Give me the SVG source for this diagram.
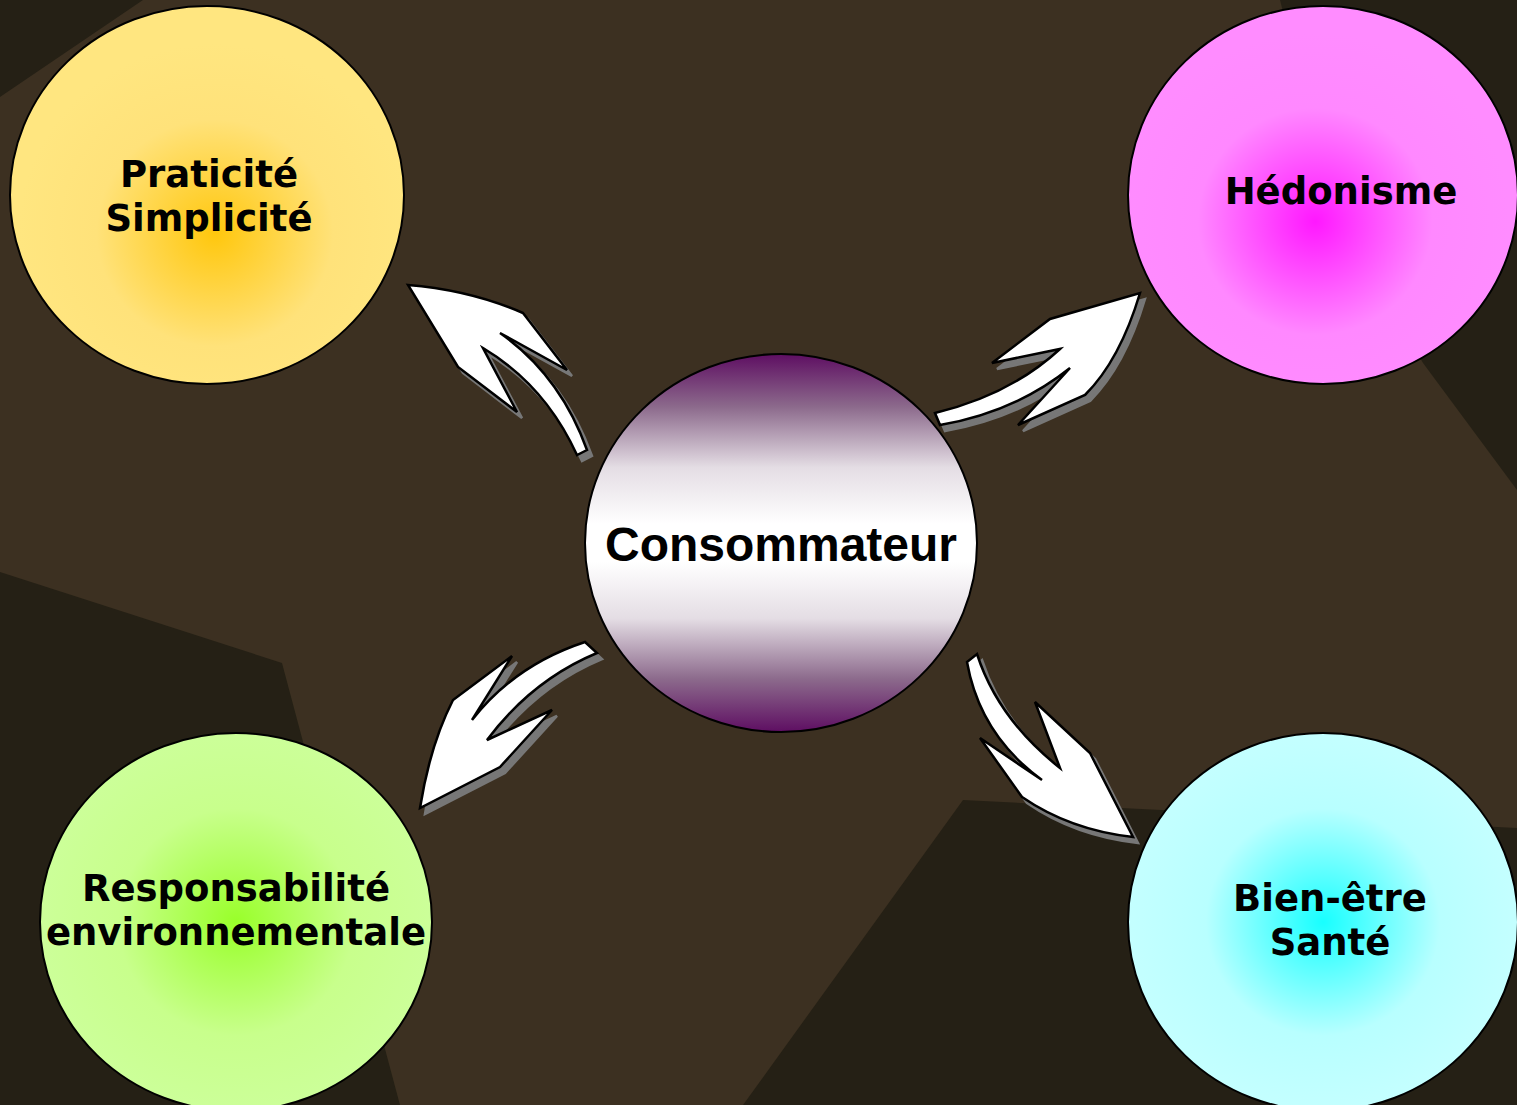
<svg xmlns="http://www.w3.org/2000/svg" width="1517" height="1105" viewBox="0 0 1517 1105">
<style>
.node ellipse{stroke:#000;stroke-width:2}
.lbl{font-family:"DejaVu Sans",Verdana,sans-serif;font-weight:bold;font-size:37px;fill:#000;text-anchor:middle}
.main{font-family:"Liberation Sans",Arial,sans-serif;font-weight:bold;font-size:48px;fill:#000;text-anchor:middle}
.arrow{fill:#fff;stroke:#000;stroke-width:2.5;stroke-linejoin:miter}
.shadow{fill:#777;stroke:#777;stroke-width:2.5}
</style>
<defs>
<radialGradient id="gY" cx="0.52" cy="0.6" r="0.5"><stop offset="0" stop-color="#ffc70d"/><stop offset="0.6" stop-color="#ffe27a"/><stop offset="1" stop-color="#ffe680"/></radialGradient>
<radialGradient id="gP" cx="0.48" cy="0.57" r="0.5"><stop offset="0" stop-color="#ff18ff"/><stop offset="0.6" stop-color="#ff88ff"/><stop offset="1" stop-color="#ff8cff"/></radialGradient>
<radialGradient id="gG" cx="0.5" cy="0.5" r="0.5"><stop offset="0" stop-color="#99ff2a"/><stop offset="0.6" stop-color="#c8ff8c"/><stop offset="1" stop-color="#ccff99"/></radialGradient>
<radialGradient id="gC" cx="0.5" cy="0.5" r="0.5"><stop offset="0" stop-color="#18ffff"/><stop offset="0.6" stop-color="#b8ffff"/><stop offset="1" stop-color="#c4ffff"/></radialGradient>
<linearGradient id="gM" x1="0" y1="0" x2="0" y2="1">
<stop offset="0" stop-color="#5e0e62"/><stop offset="0.14" stop-color="#8c6a8c"/><stop offset="0.3" stop-color="#e4dde4"/><stop offset="0.45" stop-color="#fff"/><stop offset="0.55" stop-color="#fff"/><stop offset="0.7" stop-color="#e4dde4"/><stop offset="0.86" stop-color="#8c6a8c"/><stop offset="1" stop-color="#5e0e62"/>
</linearGradient>
<path id="a1" d="M408,285 Q470,290 523,313 L567,370 L500,333 Q560,375 587,450 L577,455 Q545,385 483,348 L517,412 L458,367 Z"/>
<path id="a2" d="M935,413 Q1010,395 1060,349 L992,363 L1050,319 L1140,293 Q1120,360 1085,395 L1018,425 L1070,368 Q1015,412 940,425 Z"/>
<path id="a3" d="M585,642 Q515,665 472,720 L512,656 L453,700 Q430,745 420,808 L500,767 L552,710 L487,740 Q532,680 597,653 Z"/>
<path id="a4" d="M977,654 Q998,719 1060,768 L1035,702 L1090,753 L1133,837 Q1070,830 1022,797 L980,738 L1042,780 Q980,735 967,662 Z"/>
</defs>
<rect width="1517" height="1105" fill="#3c3021"/>
<g id="background" fill="#252015">
<polygon points="0,0 143,0 0,97"/>
<polygon points="0,572 282,663 400,1105 0,1105"/>
<polygon points="963,800 1517,828 1517,1105 743,1105"/>
<polygon points="1280,0 1517,0 1517,490 1423,363 1330,200"/>
</g>
<g id="connectors">
<use href="#a1" class="shadow" transform="translate(5,6)"/>
<use href="#a1" class="arrow"/>
<use href="#a2" class="shadow" transform="translate(5,6)"/>
<use href="#a2" class="arrow"/>
<use href="#a3" class="shadow" transform="translate(5,6)"/>
<use href="#a3" class="arrow"/>
<use href="#a4" class="shadow" transform="translate(5,6)"/>
<use href="#a4" class="arrow"/>
</g>
<g id="n-praticite" class="node">
<ellipse cx="207" cy="195" rx="197" ry="189" fill="url(#gY)"/>
<text class="lbl" x="209" y="187">Praticité</text>
<text class="lbl" x="209" y="231">Simplicité</text>
</g>
<g id="n-hedonisme" class="node">
<ellipse cx="1323" cy="195" rx="195" ry="189" fill="url(#gP)"/>
<text class="lbl" x="1341" y="204">Hédonisme</text>
</g>
<g id="n-consommateur" class="node">
<ellipse cx="781" cy="543" rx="196" ry="189" fill="url(#gM)"/>
<text class="main" x="781" y="561">Consommateur</text>
</g>
<g id="n-responsabilite" class="node">
<ellipse cx="236" cy="922" rx="196" ry="189" fill="url(#gG)"/>
<text class="lbl" x="236" y="901">Responsabilité</text>
<text class="lbl" x="236" y="945">environnementale</text>
</g>
<g id="n-bienetre" class="node">
<ellipse cx="1323" cy="922" rx="195" ry="189" fill="url(#gC)"/>
<text class="lbl" x="1330" y="911">Bien-être</text>
<text class="lbl" x="1330" y="955">Santé</text>
</g>
</svg>
